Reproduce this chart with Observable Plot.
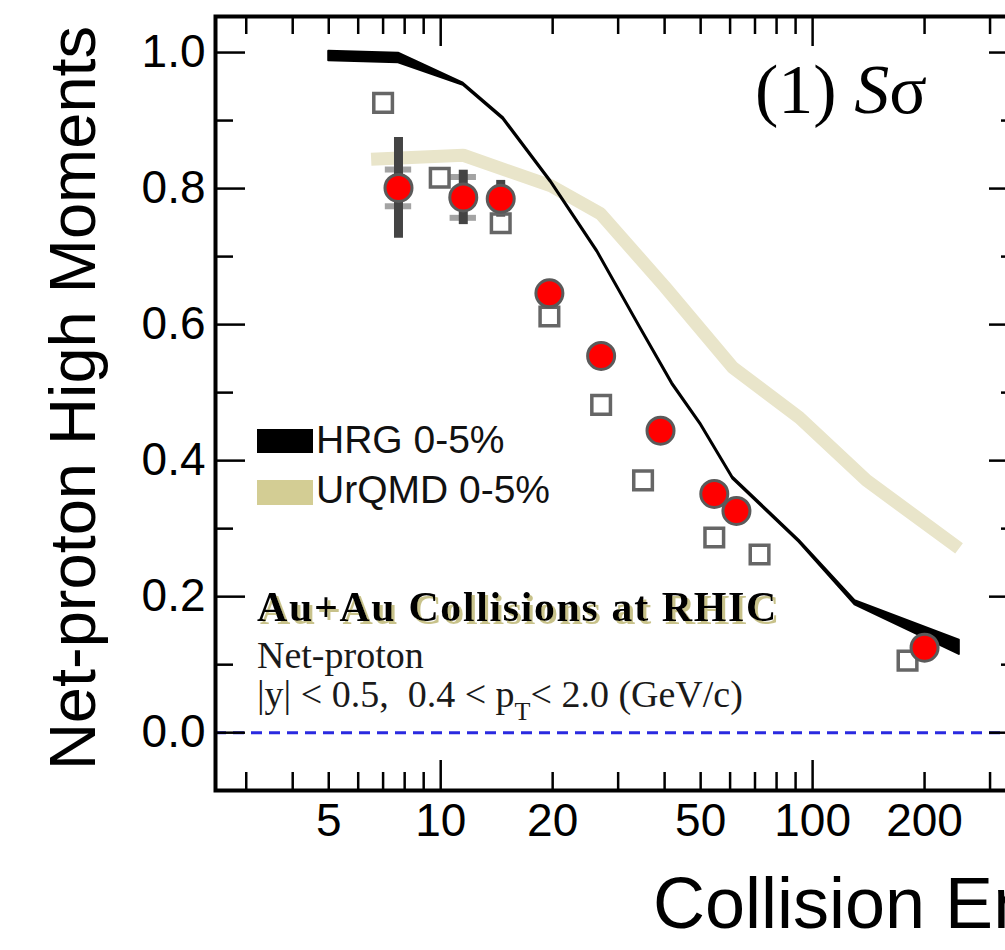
<!DOCTYPE html>
<html><head><meta charset="utf-8">
<script src="https://cdn.jsdelivr.net/npm/d3@7"></script>
<script src="https://cdn.jsdelivr.net/npm/@observablehq/plot@0.6"></script>
<style>
html,body{margin:0;padding:0;background:#fff;overflow:hidden;width:1005px;height:950px;}
</style></head><body><div id="chart"></div>
<script>
// STAR net-proton S*sigma (filled red circles)
const starEnergy  = [7.7, 11.5, 14.5, 19.6, 27, 39, 54.4, 62.4, 200];
const starValue   = [0.801, 0.787, 0.785, 0.646, 0.554, 0.444, 0.351, 0.326, 0.125];
const starStatErr = [0.074, 0.040, 0.027, 0.012, 0.01, 0.01, 0.01, 0.01, 0.01];
const starSysErr  = [0.027, 0.030, 0, 0, 0, 0, 0, 0, 0];
// open squares
const sqEnergy = [7.0, 9.94, 14.5, 19.6, 27, 35, 54.4, 72, 180];
const sqValue  = [0.926, 0.816, 0.749, 0.612, 0.482, 0.371, 0.287, 0.262, 0.106];
// HRG 0-5% band
const hrgEnergy = [5, 7.7, 11.5, 14.7, 19.7, 26.3, 34.4, 42, 50, 61, 92, 130, 248];
const hrgLow    = [0.988, 0.985, 0.952, 0.902, 0.810, 0.707, 0.594, 0.511, 0.452, 0.373, 0.280, 0.188, 0.115];
const hrgHigh   = [1.002, 0.999, 0.955, 0.905, 0.813, 0.710, 0.597, 0.514, 0.455, 0.376, 0.283, 0.194, 0.136];
// UrQMD 0-5%
const urqmdEnergy = [6.5, 11.5, 19.8, 26.9, 40, 61, 92.2, 139.5, 247.6];
const urqmdValue  = [0.843, 0.849, 0.804, 0.763, 0.656, 0.537, 0.463, 0.371, 0.271];
// ticks
const xTickLabels = [5, 10, 20, 50, 100, 200];
const xMajorTicks = [10, 100];
const xMinorTicks = [3, 4, 5, 6, 7, 8, 9, 20, 30, 40, 50, 60, 70, 80, 90, 200, 300];
const yMajorTicks = [0, 0.2, 0.4, 0.6, 0.8, 1.0];
const yMinorTicks = [0.1, 0.3, 0.5, 0.7, 0.9];

const star = starEnergy.map((e, i) => ({e, v: starValue[i], stat: starStatErr[i], sys: starSysErr[i]}));
const sys = star.filter(d => d.sys > 0).flatMap(d => [{e: d.e, v: d.v - d.sys}, {e: d.e, v: d.v + d.sys}]);
const squares = sqEnergy.map((e, i) => ({e, v: sqValue[i]}));
const hrg = hrgEnergy.map((e, i) => ({e, lo: hrgLow[i], hi: hrgHigh[i]}));
const urqmd = urqmdEnergy.map((e, i) => ({e, v: urqmdValue[i]}));

const W = 1040, H = 950, mL = 215, mR = 21, mT = 16, mB = 160;
const fw = W - mL - mR, fh = H - mT - mB;
const tickStyle = {stroke: "#000", strokeWidth: 2.5};

const plot = Plot.plot({
  width: W, height: H, marginLeft: mL, marginRight: mR, marginTop: mT, marginBottom: mB,
  style: {fontFamily: "Liberation Sans, Arial, sans-serif", background: "white", maxWidth: "none", overflow: "visible", color: "#000"},
  x: {type: "log", domain: [2.48, 360], axis: null},
  y: {domain: [-0.085, 1.053], axis: null},
  marks: [
    Plot.ruleY([0], {stroke: "#2a2ae0", strokeWidth: 3, strokeDasharray: "11,7"}),
    Plot.line(urqmd, {x: "e", y: "v", stroke: "#e9e5ca", strokeWidth: 13, strokeLinecap: "butt", strokeLinejoin: "miter"}),
    Plot.areaY(hrg, {x: "e", y1: "lo", y2: "hi", fill: "#000", stroke: "#000", strokeWidth: 2}),
    Plot.ruleY(sys, {y: "v", x1: d => d.e / 1.085, x2: d => d.e * 1.085, stroke: "#a3a3a3", strokeWidth: 6}),
    Plot.ruleX(star, {x: "e", y1: d => d.v - d.stat, y2: d => d.v + d.stat, stroke: "#444", strokeWidth: 9}),
    Plot.dot(squares, {x: "e", y: "v", symbol: "square", r: 10.5, stroke: "#666", strokeWidth: 3.5, fill: "none"}),
    Plot.dot(star, {x: "e", y: "v", r: 13.5, fill: "#ff0000", stroke: "#5a5a5a", strokeWidth: 3}),
    // inward ticks
    Plot.tickX(xMinorTicks, {x: d => d, insetTop: fh - 18, ...tickStyle}),
    Plot.tickX(xMinorTicks, {x: d => d, insetBottom: fh - 18, ...tickStyle}),
    Plot.tickX(xMajorTicks, {x: d => d, insetTop: fh - 30, ...tickStyle}),
    Plot.tickX(xMajorTicks, {x: d => d, insetBottom: fh - 30, ...tickStyle}),
    Plot.tickY(yMajorTicks, {y: d => d, insetRight: fw - 30, ...tickStyle}),
    Plot.tickY(yMajorTicks, {y: d => d, insetLeft: fw - 30, ...tickStyle}),
    Plot.tickY(yMinorTicks, {y: d => d, insetRight: fw - 18, ...tickStyle}),
    Plot.tickY(yMinorTicks, {y: d => d, insetLeft: fw - 18, ...tickStyle}),
    Plot.frame({stroke: "#000", strokeWidth: 4}),
    Plot.axisX(xTickLabels, {anchor: "bottom", tickSize: 0, tickPadding: 13, fontSize: 46, tickFormat: d => String(d), label: null, fill: "#000"}),
    Plot.axisY(yMajorTicks, {anchor: "left", tickSize: 0, tickPadding: 10, fontSize: 46, tickFormat: d3.format(".1f"), label: null, fill: "#000"})
  ]
});
document.getElementById("chart").appendChild(plot);

const svg = d3.select(plot);
const sans = "Liberation Sans, Arial, sans-serif";
const serif = "Liberation Serif, Times New Roman, serif";
const txt = (x, y) => svg.append("text").attr("x", x).attr("y", y).attr("text-anchor", "start");

// shadow filter for the title block
svg.append("defs").append("filter").attr("id", "khakiShadow")
  .attr("x", "-5%").attr("y", "-20%").attr("width", "115%").attr("height", "150%")
  .append("feDropShadow").attr("dx", 3).attr("dy", 3).attr("stdDeviation", 0.6)
  .attr("flood-color", "#c8c28a").attr("flood-opacity", 1);

// axis titles
svg.append("text").attr("transform", "translate(95,398) rotate(-90)")
  .attr("text-anchor", "middle").attr("font-family", sans).attr("font-size", 65).attr("fill", "#000")
  .text("Net-proton High Moments");
txt(653, 928).attr("font-family", sans).attr("font-size", 72).attr("fill", "#000").text("Collision Energy");

// legend
svg.append("rect").attr("x", 257).attr("y", 429).attr("width", 56).attr("height", 24).attr("fill", "#000");
txt(316, 453).attr("font-family", sans).attr("font-size", 39).attr("fill", "#111").text("HRG 0-5%");
svg.append("rect").attr("x", 257).attr("y", 480).attr("width", 56).attr("height", 25).attr("fill", "#d3cd94");
txt(316, 503).attr("font-family", sans).attr("font-size", 39).attr("fill", "#111").text("UrQMD 0-5%");

// annotation block
txt(257, 621).attr("font-family", serif).attr("font-weight", "bold")
  .attr("font-size", 42).attr("letter-spacing", 1.6).attr("fill", "#000")
  .attr("filter", "url(#khakiShadow)").text("Au+Au Collisions at RHIC");
txt(257, 668).attr("font-family", serif).attr("font-size", 38).attr("fill", "#1a1a1a").text("Net-proton");
const l2 = txt(257, 707).attr("font-family", serif).attr("font-size", 38)
  .attr("fill", "#1a1a1a").style("white-space", "pre");
l2.append("tspan").text("|y| < 0.5,  0.4 < p");
l2.append("tspan").attr("font-size", 26).attr("dy", 13).text("T");
l2.append("tspan").attr("dy", -13).text("< 2.0 (GeV/c)");

// panel label
const pl = txt(755, 113).attr("font-family", serif).attr("font-size", 70)
  .attr("fill", "#000").style("white-space", "pre");
pl.append("tspan").text("(1) ");
pl.append("tspan").attr("font-style", "italic").text("S");
pl.append("tspan").text("σ");
</script></body></html>
